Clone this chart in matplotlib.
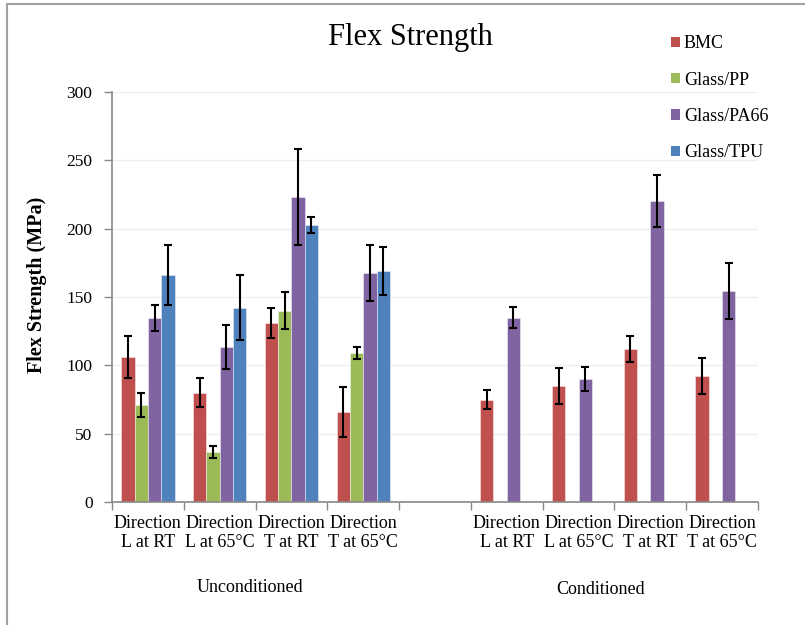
import numpy as np
import matplotlib.pyplot as plt
from matplotlib.patches import Patch
from matplotlib.lines import Line2D

plt.rcParams['font.family'] = ['Liberation Serif', 'DejaVu Serif']

# test conditions; the empty slot separates the two blocks
categories = ['Direction\nL at RT', 'Direction\nL at 65°C', 'Direction\nT at RT', 'Direction\nT at 65°C', '',
              'Direction\nL at RT', 'Direction\nL at 65°C', 'Direction\nT at RT', 'Direction\nT at 65°C']
materials = ['BMC', 'Glass/PP', 'Glass/PA66', 'Glass/TPU']
nan = np.nan

bmc = [106, 80, 131, 66, nan, 75, 85, 112, 92]
bmc_err = [15.5, 10.7, 11.3, 18.4, nan, 7, 13.3, 9.8, 13.3]
glass_pp = [71, 36.5, 140, 109, nan, nan, nan, nan, nan]
glass_pp_err = [8.7, 4.4, 13.4, 4.3, nan, nan, nan, nan, nan]
glass_pa66 = [134.6, 113.4, 223, 167.6, nan, 135, 90, 220, 154.6]
glass_pa66_err = [9.3, 16, 35, 20.7, nan, 7.8, 9, 19, 20.5]
glass_tpu = [166, 142, 202.5, 169, nan, nan, nan, nan, nan]
glass_tpu_err = [22, 23.8, 6, 17.5, nan, nan, nan, nan, nan]

colors = ['#c0504d', '#9bbb59', '#8064a2', '#4f81bd']
values = [bmc, glass_pp, glass_pa66, glass_tpu]
errors = [bmc_err, glass_pp_err, glass_pa66_err, glass_tpu_err]

fig = plt.figure(figsize=(8.05, 6.25), dpi=100)
ax = fig.add_axes([112/805, 123/625, 646/805, 410/625])

x = np.arange(len(categories))
w = 0.1856
for j, (vals, errs, col) in enumerate(zip(values, errors, colors)):
    pos = x + (j - 1.5) * w
    ax.bar(pos, vals, w, color=col, edgecolor=(1, 1, 1, 0.5), linewidth=0.6, zorder=2)
    ax.errorbar(pos, vals, yerr=errs, fmt='none', ecolor='black', elinewidth=1.5,
                capsize=3, capthick=1.5, zorder=3)

ax.set_xlim(-0.5, len(categories) - 0.5)
ax.set_ylim(0, 300)
ax.set_yticks(np.arange(0, 301, 50))
ax.yaxis.grid(True, color='#efefef', linewidth=1)
ax.set_axisbelow(True)
ax.tick_params(axis='y', labelsize=12.5, length=6, color='#888888', width=1, pad=8)

# boundary ticks between categories, labels centred under each group
ax.set_xticks(np.arange(-0.5, len(categories), 1))
ax.set_xticklabels([])
ax.tick_params(axis='x', which='major', length=6, color='#888888', width=1)
ax.set_xticks(x, minor=True)
ax.set_xticklabels(categories, minor=True, fontsize=13, linespacing=1.2)
ax.tick_params(axis='x', which='minor', length=0, pad=9)

for s in ['top', 'right']:
    ax.spines[s].set_visible(False)
for s in ['left', 'bottom']:
    ax.spines[s].set_color('#888888')
    ax.spines[s].set_linewidth(1.2)

fig.text(410/805, 1 - 37/625, 'Flex Strength', fontsize=22, ha='center', va='center')
fig.text(37/805, 1 - 285/625, 'Flex Strength (MPa)', fontsize=14.5, fontweight='bold',
         rotation=90, ha='center', va='center')
fig.text(250/805, 1 - 587/625, 'Unconditioned', fontsize=13, ha='center', va='center')
fig.text(601/805, 1 - 590/625, 'Conditioned', fontsize=13, ha='center', va='center')

handles = [Patch(facecolor=c, edgecolor='none') for c in colors]
fig.legend(handles, materials, loc='upper left', bbox_to_anchor=(664/805, 1 - 28/625),
           frameon=False, fontsize=13, handlelength=0.5, handleheight=0.5,
           handletextpad=0.2, labelspacing=1.07, borderaxespad=0)

# outer frame along the left and top edges
fig.add_artist(Line2D([7/805, 7/805], [0, 1 - 4/625], color='#a0a0a0', linewidth=1.5))
fig.add_artist(Line2D([7/805, 1], [1 - 4/625, 1 - 4/625], color='#a0a0a0', linewidth=1.5))

fig.savefig('out.png', dpi=100)
